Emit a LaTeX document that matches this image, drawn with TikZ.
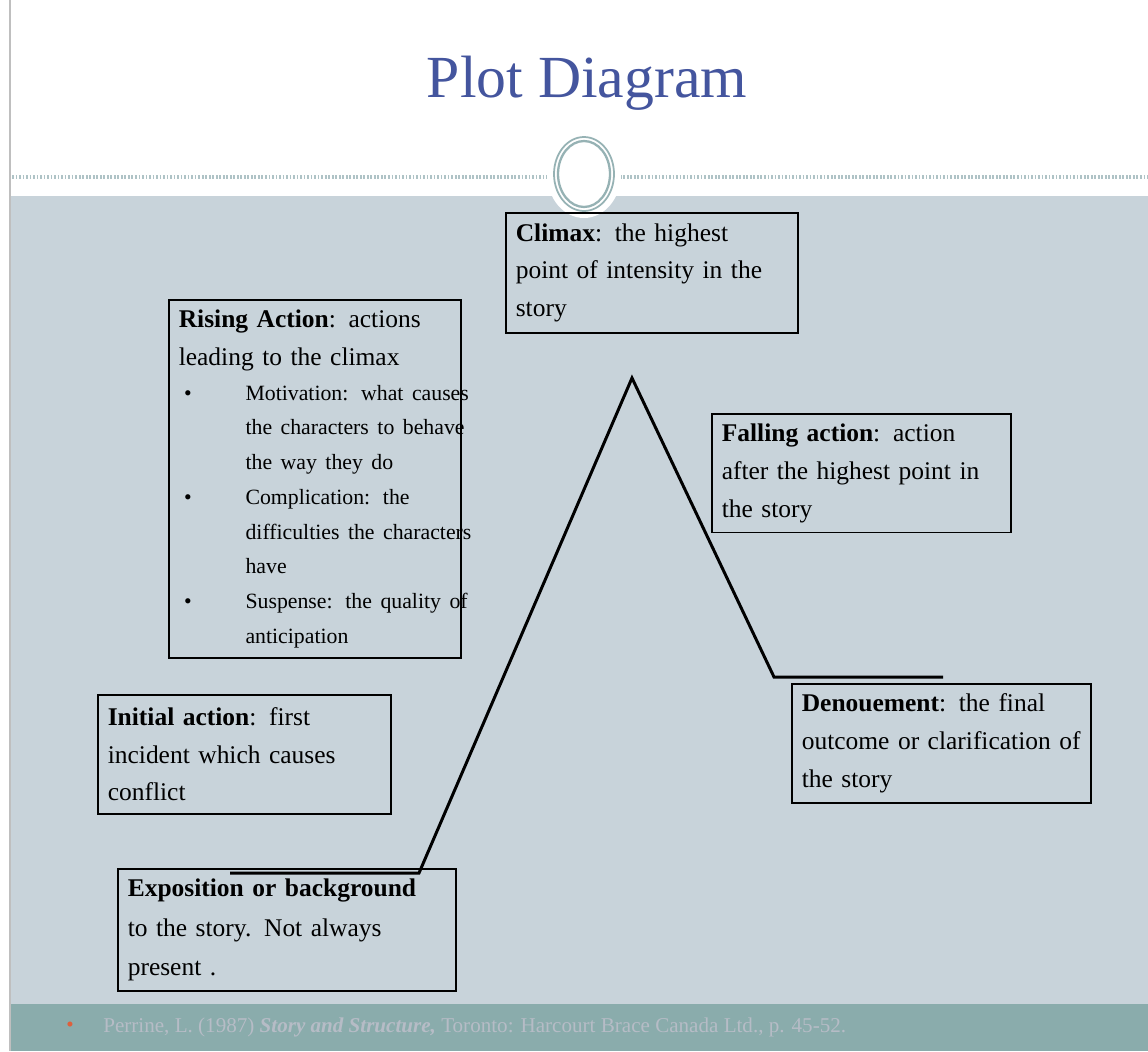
\documentclass[tikz,border=0pt]{standalone}
\usepackage{fontspec}
\setmainfont{Liberation Serif}
\usepackage{tikz}
\definecolor{titleblue}{RGB}{68,85,158}
\definecolor{panel}{RGB}{200,211,218}
\definecolor{footband}{RGB}{138,172,172}
\definecolor{foottext}{RGB}{182,188,198}
\definecolor{ringcol}{RGB}{150,178,180}
\definecolor{dotcol}{RGB}{175,195,198}
\definecolor{footbullet}{RGB}{222,96,60}
\tikzset{plotbox/.style={draw, rectangle, line width=0.9pt, anchor=north west, inner sep=0.2cm, align=left, font={\fontsize{14.5pt}{21.5pt}\selectfont}},
  plotline/.style={line width=1.7pt}}
\newcommand\riseitem[1]{\makebox[38pt][l]{\hspace*{3pt}\textbullet}\mbox{#1}}
\newcommand\risecont[1]{\hspace*{38pt}\mbox{#1}}

\begin{document}
\begin{tikzpicture}[x=0.02cm, y=-0.02cm]
\useasboundingbox (0,0) rectangle (1148,1051);
\fill[white] (0,0) rectangle (1148,1051);
\fill[panel] (11,196) rectangle (1148,1004);
\fill[footband] (11,1004) rectangle (1148,1051);
\draw[gray!50, line width=0.8pt] (10,0) -- (10,1051);
% header rule and ring
\draw[dotcol, line width=2.5pt, dash pattern=on 1pt off 1pt] (12,177) -- (1148,177);
\fill[white] (584,174) ellipse [x radius=0.74cm, y radius=0.88cm];
\draw[ringcol, line width=1pt] (584,174) ellipse [x radius=0.6cm, y radius=0.74cm];
\draw[ringcol, line width=1.3pt] (584,174) ellipse [x radius=0.52cm, y radius=0.66cm];
\node[anchor=base, text=titleblue, font={\fontsize{34pt}{40pt}\selectfont}] (title) at (587,97) {Plot Diagram};
% boxes
\node[plotbox, text width=5.44cm, minimum height=2.4cm] (climax) at (505,212) {\textbf{Climax}:  the highest\\ point of intensity in the\\ story};
\node[plotbox, text width=5.44cm, minimum height=7.08cm] (rising) at (168,299) {\textbf{Rising Action}:  actions\\ leading to the climax\par
{\fontsize{12.4pt}{19.8pt}\selectfont
\riseitem{Motivation:  what causes}\\ \risecont{the characters to behave}\\ \risecont{the way they do}\\
\riseitem{Complication:  the}\\ \risecont{difficulties the characters}\\ \risecont{have}\\
\riseitem{Suspense:  the quality of}\\ \risecont{anticipation}\par}};
\node[plotbox, text width=5.58cm, minimum height=2.36cm] (falling) at (711,413) {\textbf{Falling action}:  action\\ after the highest point in\\ the story};
\node[plotbox, text width=5.58cm, minimum height=2.38cm] (denouement) at (791,683) {\textbf{Denouement}:  the final\\ outcome or clarification of\\ the story};
\node[plotbox, text width=5.46cm, minimum height=2.38cm] (initial) at (97,694) {\textbf{Initial action}:  first\\ incident which causes\\ conflict};
\node[plotbox, text width=6.36cm, minimum height=2.38cm, font={\fontsize{14.5pt}{22.5pt}\selectfont}] (expo) at (117,868) {\textbf{Exposition or background}\\ to the story.  Not always\\ present .};
% plot line
\coordinate (expoL) at (230,873);
\coordinate (expoR) at (419,873);
\coordinate (peak) at (632,378);
\coordinate (fallEnd) at (774,677);
\coordinate (denR) at (943,677);
\draw[plotline] (expoL) -- (expoR) -- (peak) -- (fallEnd) -- (denR);
% footer
\node[text=footbullet, font=\large] (fbullet) at (70,1027) {\textbullet};
\node[anchor=west, inner sep=0pt, text=foottext, font={\fontsize{12pt}{14pt}\selectfont}] (source) at (103,1027) {Perrine, L.  (1987) \textbf{\textit{Story and Structure,}}  Toronto:  Harcourt Brace Canada Ltd., p. 45-52.};
\end{tikzpicture}
\end{document}
